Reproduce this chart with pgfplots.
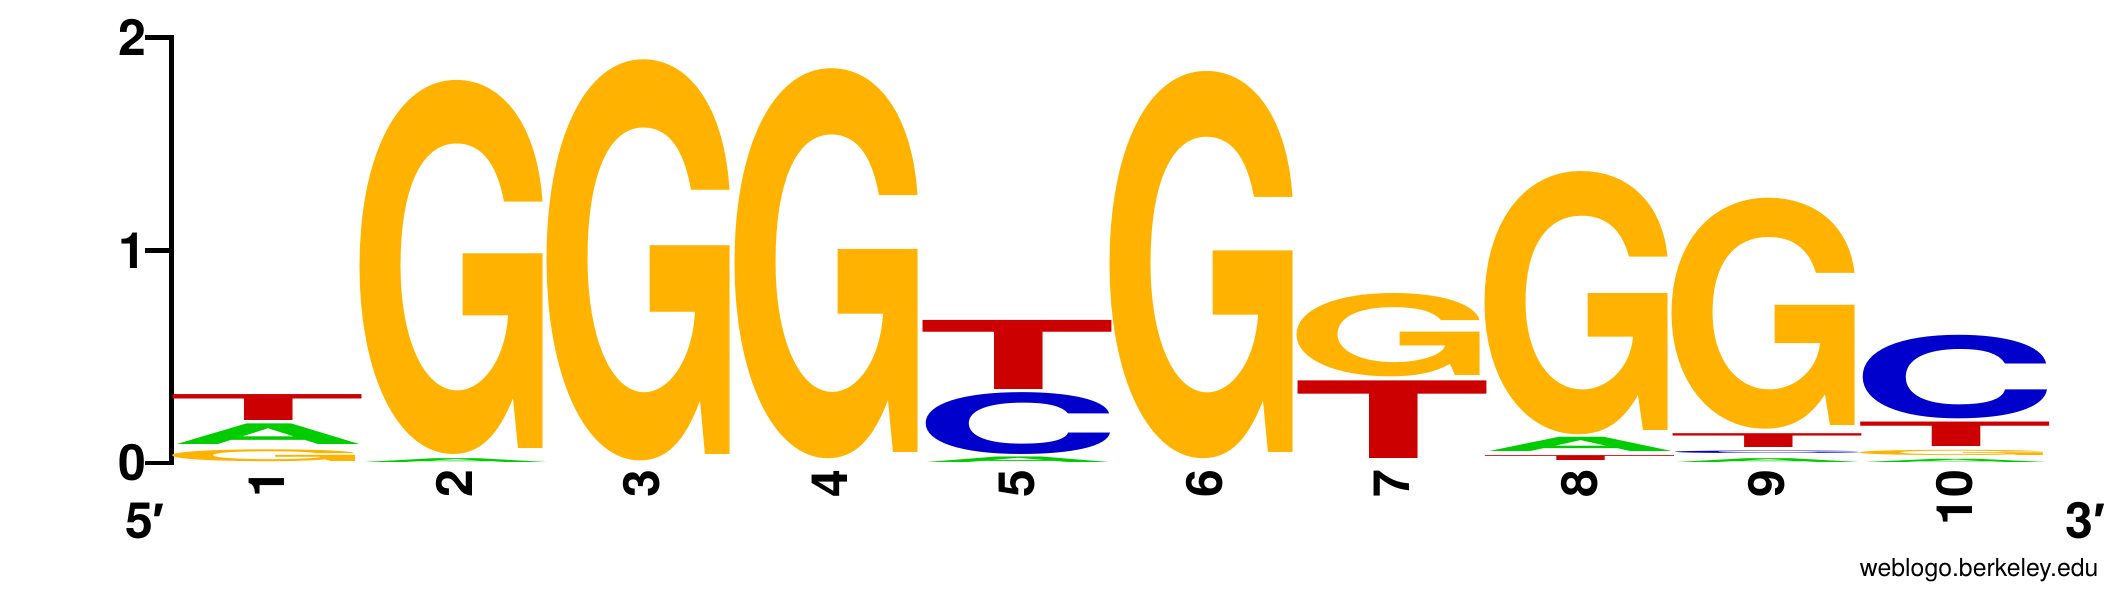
\documentclass[border=0pt]{standalone}
\usepackage{fontspec}
\setmainfont{TeX Gyre Heros}
\newfontfamily\primefont{Liberation Sans}
\usepackage{graphicx}
\usepackage{pgfplots}
\usepackage{pgfplotstable}
\pgfplotsset{compat=1.18}
\definecolor{cG}{HTML}{FFB300}
\definecolor{cA}{HTML}{00CC00}
\definecolor{cC}{HTML}{0000CC}
\definecolor{cT}{HTML}{CC0000}

% x = position, b = bottom of the letter (bits), h = height of the letter (bits)
\pgfplotstableread{
x b h
1 0.007 0.056
2 0.039 1.758
3 0.011 1.885
4 0.021 1.833
6 0.021 1.820
7 0.407 0.392
8 0.132 1.237
9 0.157 1.086
10 0.034 0.025
}\tabG
\pgfplotstableread{
x b h
1 0.086 0.097
2 0.003 0.018
5 0.004 0.026
8 0.055 0.067
9 0.000 0.018
10 0.000 0.015
}\tabA
\pgfplotstableread{
x b h
5 0.039 0.291
9 0.039 0.012
10 0.210 0.393
}\tabC
\pgfplotstableread{
x b h
1 0.198 0.122
5 0.347 0.325
7 0.021 0.365
8 0.011 0.023
9 0.071 0.065
10 0.078 0.115
}\tabT

\pgfplotsset{
  logo/.style n args={3}{only marks, mark=none, color=#1,
    visualization depends on={\thisrow{h} \as \letterh},
    nodes near coords={\pgfmathsetlengthmacro\LH{\letterh*53.15pt}\resizebox*{#3}{\LH}{\bfseries #2}},
    every node near coord/.append style={anchor=south, inner sep=0pt, outer sep=0pt, text=#1}}
}

\begin{document}
\begin{tikzpicture}
\begin{axis}[
  x=46.875pt, y=53.15pt,
  xmin=0.489, xmax=10.5, ymin=0, ymax=2,
  enlargelimits=false, clip=false,
  axis lines*=left,
  x axis line style={draw=none},
  y axis line style={draw=none},
  xtick={1,...,10},
  ytick={0,1,2},
  xtick style={draw=none},
  ytick style={draw=none},
  tick align=outside,
  major tick length=6.6pt,
  xticklabel shift=-6.6pt,
  /pgf/number format/assume math mode=true,
  yticklabel style={font=\fontsize{12.5}{14}\selectfont\bfseries, inner sep=0.5pt, xshift=1.2pt},
  xticklabel style={font=\fontsize{12.5}{14}\selectfont\bfseries, rotate=90, anchor=east, inner sep=1.5pt},
]
\addplot[logo={cG}{G}{53.2pt}] table[x=x, y=b] {\tabG};
\addplot[logo={cA}{A}{48.6pt}] table[x=x, y=b] {\tabA};
\addplot[logo={cC}{C}{51.9pt}] table[x=x, y=b] {\tabC};
\addplot[logo={cT}{T}{49.4pt}] table[x=x, y=b] {\tabT};
% y axis: bracket-shaped line with outward ticks
\draw[line width=1.2pt, line join=miter] ([xshift=-6.6pt]axis cs:0.489,2) -- (axis cs:0.489,2)
  -- (axis cs:0.489,0) -- ([xshift=-6.6pt]axis cs:0.489,0);
\draw[line width=1.2pt] (axis cs:0.489,1) -- ([xshift=-6.6pt]axis cs:0.489,1);
\node[anchor=base, font=\fontsize{12.5}{14}\selectfont\bfseries] at (axis cs:0.349,-0.353) {5{\primefont′}};
\node[anchor=base, font=\fontsize{12.5}{14}\selectfont\bfseries] at (axis cs:10.70,-0.353) {3{\primefont′}};
\node[anchor=base east, inner sep=0pt, font=\fontsize{6.2}{7}\selectfont] at (axis cs:10.771,-0.532) {weblogo.berkeley.edu};
\coordinate (bbll) at (axis cs:-0.424,-0.588);
\coordinate (bbur) at (axis cs:10.909,2.178);
\end{axis}
\pgfresetboundingbox
\path[use as bounding box] (bbll) rectangle (bbur);
\end{tikzpicture}
\end{document}
